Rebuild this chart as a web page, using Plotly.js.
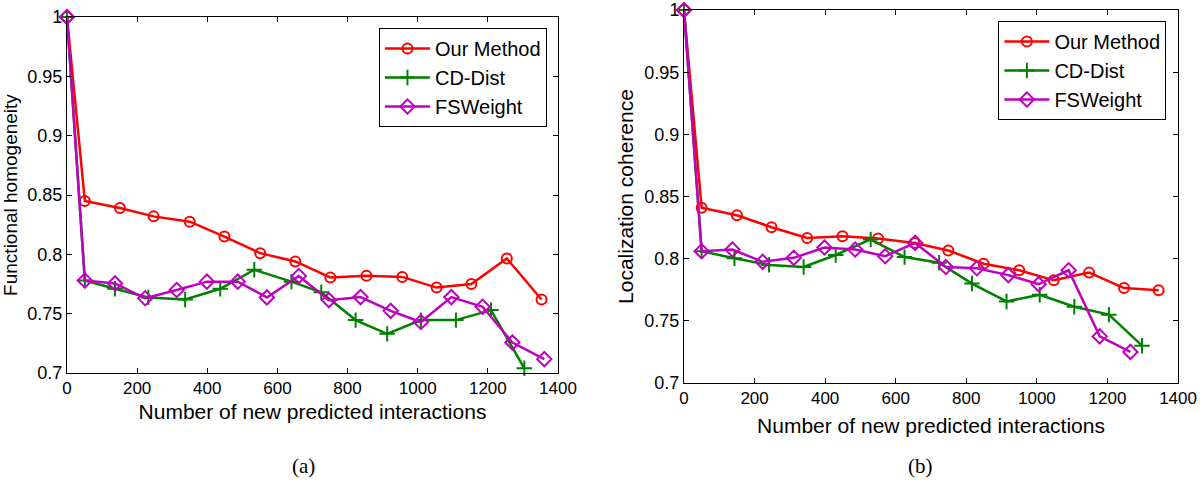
<!DOCTYPE html>
<html>
<head>
<meta charset="utf-8">
<script src="https://cdn.plot.ly/plotly-3.0.1.min.js"></script>
<style>html,body{margin:0;padding:0;background:#fff;}#chart{width:1200px;height:482px;}</style>
</head>
<body>
<div id="chart"></div>
<script>
// ---- data: panel (a) Functional homogeneity ----
const a_our_x = [0, 51, 151, 247, 350, 449, 551, 651, 751, 854, 956, 1054, 1153, 1254, 1353];
const a_our_y = [1, 0.845, 0.839, 0.832, 0.8275, 0.815, 0.801, 0.794, 0.7805, 0.782, 0.781, 0.772, 0.775, 0.7966, 0.762];
const a_cd_x = [0, 51, 137, 232, 337, 437, 534, 640, 725, 823, 913, 1009, 1109, 1209, 1304];
const a_cd_y = [1, 0.778, 0.771, 0.7637, 0.762, 0.771, 0.787, 0.777, 0.768, 0.7446, 0.733, 0.7446, 0.7446, 0.753, 0.704];
const a_fs_x = [0, 51, 137, 223, 313, 399, 487, 570, 661, 747, 837, 923, 1009, 1096, 1185, 1270, 1361];
const a_fs_y = [1, 0.778, 0.7755, 0.763, 0.770, 0.777, 0.777, 0.7637, 0.7817, 0.7614, 0.764, 0.7524, 0.743, 0.764, 0.7558, 0.7257, 0.7117];

// ---- data: panel (b) Localization coherence ----
const b_our_x = [0, 50, 150, 248, 349, 449, 550, 653, 749, 849, 950, 1048, 1148, 1247, 1345];
const b_our_y = [1, 0.841, 0.835, 0.8253, 0.8167, 0.818, 0.8162, 0.8127, 0.8066, 0.796, 0.7907, 0.7826, 0.7888, 0.7764, 0.7747];
const b_cd_x = [0, 50, 143, 241, 339, 430, 529, 625, 723, 816, 914, 1008, 1106, 1204, 1298];
const b_cd_y = [1, 0.806, 0.8003, 0.795, 0.7933, 0.803, 0.8155, 0.8013, 0.7968, 0.78, 0.7656, 0.771, 0.7614, 0.755, 0.730];
const b_fs_x = [0, 50, 137, 223, 311, 398, 485, 570, 655, 742, 830, 919, 1005, 1090, 1178, 1265];
const b_fs_y = [1, 0.806, 0.8074, 0.7975, 0.8007, 0.809, 0.8074, 0.802, 0.8127, 0.7933, 0.7923, 0.7868, 0.7795, 0.7907, 0.7375, 0.725];

// ---- labels ----
const seriesNames = ["Our Method", "CD-Dist", "FSWeight"];
const xTickVals = [0, 200, 400, 600, 800, 1000, 1200, 1400];
const xTickText = ["0", "200", "400", "600", "800", "1000", "1200", "1400"];
const yTickVals = [0.7, 0.75, 0.8, 0.85, 0.9, 0.95, 1];
const yTickText = ["0.7", "0.75", "0.8", "0.85", "0.9", "0.95", "1"];
const xTitle = "Number of new predicted interactions";
const yTitleA = "Functional homogeneity";
const yTitleB = "Localization coherence";
const panelLabels = ["(a)", "(b)"];

const colors = ["#ff0000", "#008000", "#bf00bf"];
const symbols = ["circle-open", "cross-thin-open", "diamond-open"];
const sizes = [10, 11, 11];

function mk(x, y, i, xa, ya, lg) {
  return {
    x: x, y: y, name: seriesNames[i], type: "scatter", mode: "lines+markers",
    xaxis: xa, yaxis: ya, legend: lg, cliponaxis: false,
    line: {color: colors[i], width: 2.5},
    marker: {symbol: symbols[i], size: sizes[i], color: colors[i], line: {color: colors[i], width: 2}}
  };
}

const traces = [
  mk(a_our_x, a_our_y, 0, "x", "y", "legend"),
  mk(a_cd_x, a_cd_y, 1, "x", "y", "legend"),
  mk(a_fs_x, a_fs_y, 2, "x", "y", "legend"),
  mk(b_our_x, b_our_y, 0, "x2", "y2", "legend2"),
  mk(b_cd_x, b_cd_y, 1, "x2", "y2", "legend2"),
  mk(b_fs_x, b_fs_y, 2, "x2", "y2", "legend2")
];

const F = "Liberation Sans, Arial, sans-serif";
function xax(dom, anchor, standoff) {
  return {
    domain: dom, anchor: anchor, range: [0, 1400], tickvals: xTickVals, ticktext: xTickText,
    ticks: "inside", ticklen: 5, tickcolor: "#000", showline: true, linecolor: "#000", linewidth: 1,
    mirror: "ticks", showgrid: false, zeroline: false, ticklabeloverflow: "allow",
    tickfont: {family: F, size: 17, color: "#000"},
    title: {text: xTitle, font: {family: F, size: 21, color: "#000"}, standoff: standoff}
  };
}
function yax(dom, anchor, t, tsize) {
  return {
    domain: dom, anchor: anchor, range: [0.7, 1], tickvals: yTickVals, ticktext: yTickText,
    ticks: "inside", ticklen: 5, tickcolor: "#000", showline: true, linecolor: "#000", linewidth: 1,
    mirror: "ticks", showgrid: false, zeroline: false, ticklabeloverflow: "allow",
    tickfont: {family: F, size: 18, color: "#000"},
    title: {text: t, font: {family: F, size: tsize, color: "#000"}, standoff: 4}
  };
}

const legendBase = {
  xref: "paper", yref: "paper", xanchor: "right", yanchor: "top",
  bgcolor: "#fff", bordercolor: "#000", borderwidth: 1,
  font: {family: F, size: 20, color: "#000"}, tracegroupgap: 0, itemwidth: 45
};

const layout = {
  width: 1200, height: 482,
  margin: {l: 0, r: 0, t: 0, b: 0},
  paper_bgcolor: "#fff", plot_bgcolor: "#fff",
  showlegend: true,
  xaxis: xax([0.0558, 0.465], "y", 6),
  yaxis: yax([0.2261, 0.9647], "x", yTitleA, 19),
  xaxis2: xax([0.57, 0.9817], "y2", 10),
  yaxis2: yax([0.2054, 0.979], "x2", yTitleB, 21),
  legend: Object.assign({}, legendBase, {x: 0.4558, y: 0.942}),
  legend2: Object.assign({}, legendBase, {x: 0.972, y: 0.9564}),
  annotations: [
    {text: panelLabels[0], xref: "paper", yref: "paper", x: 303 / 1200, y: (482 - 466) / 482,
     showarrow: false, xanchor: "center", yanchor: "middle", font: {family: "Liberation Serif, Times New Roman, serif", size: 21, color: "#000"}},
    {text: panelLabels[1], xref: "paper", yref: "paper", x: 920 / 1200, y: (482 - 466) / 482,
     showarrow: false, xanchor: "center", yanchor: "middle", font: {family: "Liberation Serif, Times New Roman, serif", size: 21, color: "#000"}}
  ]
};

Plotly.newPlot("chart", traces, layout, {displayModeBar: false, staticPlot: true});
</script>
</body>
</html>
